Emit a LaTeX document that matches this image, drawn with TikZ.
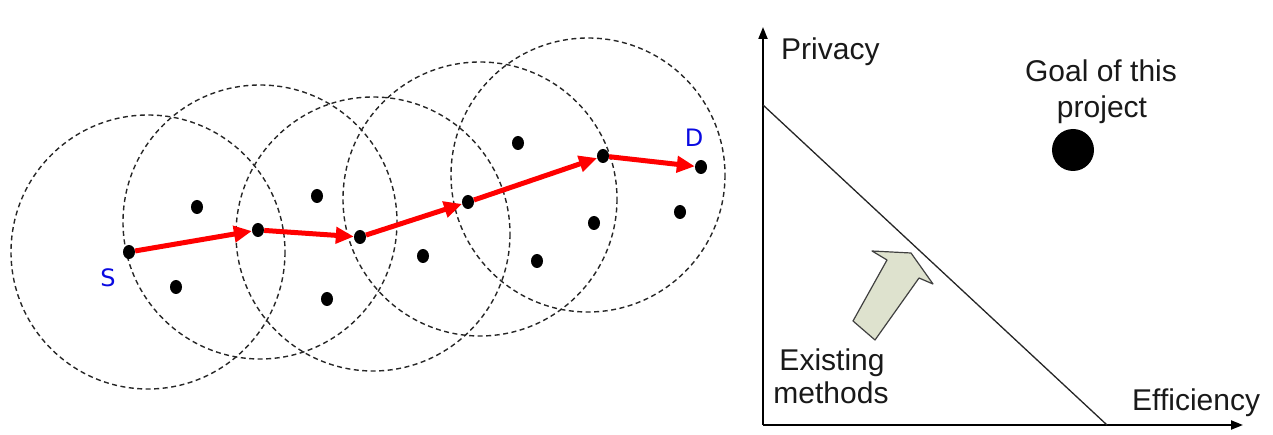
\documentclass[tikz,border=0pt]{standalone}
\usepackage{fontspec}
\setmainfont{Liberation Sans}
\newfontfamily\handfont{DejaVu Sans}
\usetikzlibrary{arrows.meta,shapes.geometric}
\begin{document}
\begin{tikzpicture}[x=1pt,y=-1pt,
  dot/.style={ellipse,fill=black,minimum width=12pt,minimum height=14pt,inner sep=0pt},
  zone/.style={draw=black!85,line width=1.4pt,dash pattern=on 5pt off 3.5pt},
  hop/.style={draw=red,line width=5pt,-{Triangle[length=18pt,width=16pt]}},
  lbl/.style={font=\fontsize{30}{34}\selectfont,inner sep=0pt,text=black!90},
  ep/.style={text={rgb,255:red,10;green,10;blue,225},font=\handfont\fontsize{24}{28}\selectfont,inner sep=0pt},
  axisline/.style={line width=2pt,-{Triangle[length=12pt,width=9pt]}}
]
\useasboundingbox (0,0) rectangle (1273,435);
% ---------- left: transmission ranges ----------
\foreach \cx/\cy in {148/252, 260/222, 373/234, 480/199, 588/175}
  \draw[zone] (\cx,\cy) circle[radius=137];
% nodes
\node[dot] (s)  at (129,252) {};
\node[dot] (n1) at (258,230) {};
\node[dot] (n2) at (360,237) {};
\node[dot] (n3) at (468,202) {};
\node[dot] (n4) at (603,156) {};
\node[dot] (d)  at (701,167) {};
\node[dot] (o1) at (197,207) {};
\node[dot] (o2) at (176,287) {};
\node[dot] (o3) at (317,196) {};
\node[dot] (o4) at (327,299) {};
\node[dot] (o5) at (423,256) {};
\node[dot] (o6) at (518,143) {};
\node[dot] (o7) at (537,261) {};
\node[dot] (o8) at (594,223) {};
\node[dot] (o9) at (680,212) {};
% route
\draw[hop] (s) -- (n1);
\draw[hop] (n1) -- (n2);
\draw[hop] (n2) -- (n3);
\draw[hop] (n3) -- (n4);
\draw[hop] (n4) -- (d);
\node[ep] (slbl) at (108,278) {S};
\node[ep] (dlbl) at (694,138) {D};
% ---------- right: privacy / efficiency ----------
\coordinate (O) at (763,425);
\coordinate (ytop) at (763,27);
\coordinate (xend) at (1243,425);
\coordinate (fa) at (763,105);
\coordinate (fb) at (1107,425);
\draw[axisline] (O) -- (ytop);
\draw[axisline] (O) -- (xend);
\draw[line width=1.3pt,black!85] (fa) -- (fb);
\node[lbl,anchor=base west] (priv) at (781,60) {Privacy};
\node[lbl,anchor=base west] (eff) at (1132,410) {Efficiency};
\node[lbl,anchor=base] (goal1) at (1101,82) {Goal of this};
\node[lbl,anchor=base] (goal2) at (1102,118) {project};
\node[circle,fill=black,minimum size=42pt,inner sep=0pt] (goal) at (1073,150) {};
\node[lbl,anchor=base] (ex1) at (832,370) {Existing};
\node[lbl,anchor=base] (ex2) at (831,403) {methods};
\draw[draw=black!75,fill={rgb,255:red,222;green,226;blue,206},line width=1.2pt,line join=round]
  (853,321) -- (875,340) -- (919,278) -- (933,284) -- (911,253) -- (872,251) -- (887,260) -- cycle;
\end{tikzpicture}
\end{document}
